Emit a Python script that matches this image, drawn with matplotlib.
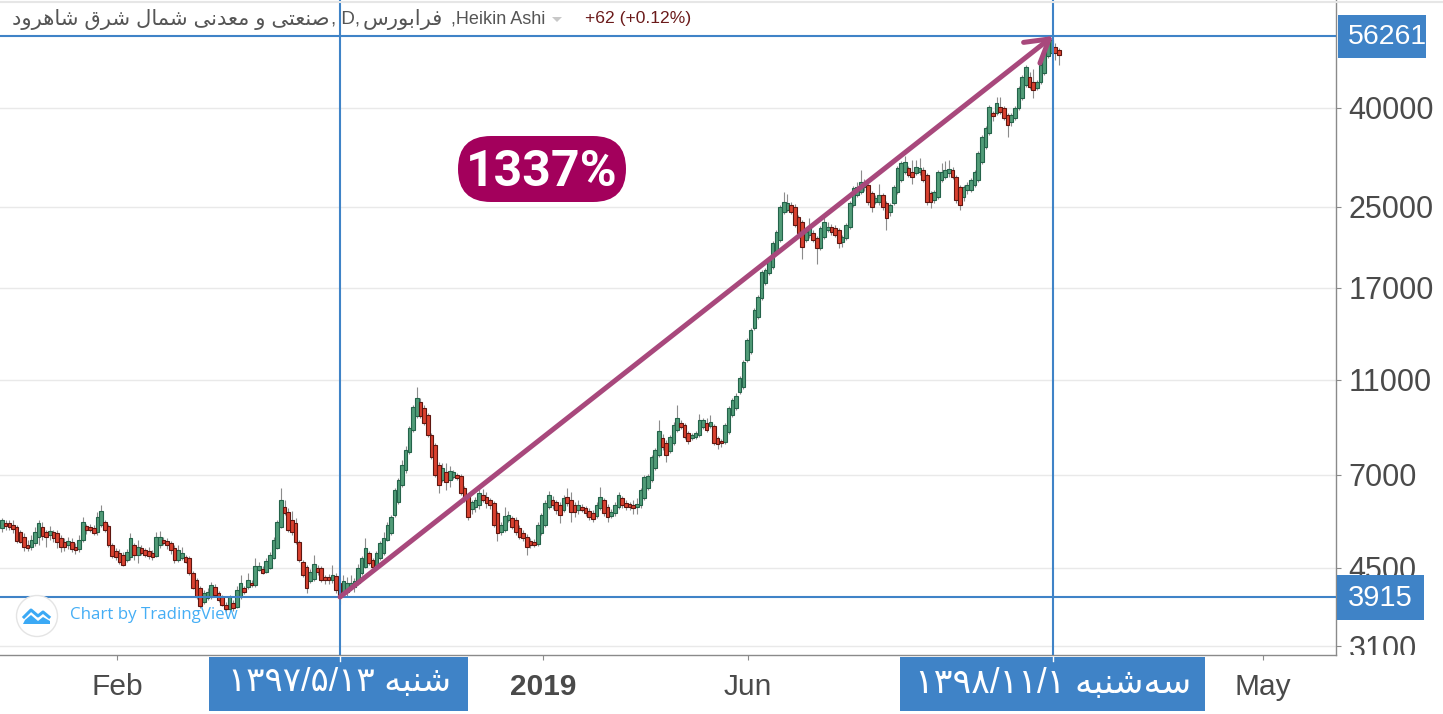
import numpy as np
import matplotlib
matplotlib.use('Agg')
from matplotlib import pyplot as plt
from matplotlib.patches import FancyBboxPatch, Rectangle, Circle, Polygon
from matplotlib.ticker import NullLocator, NullFormatter

# candles, one value per daily bar
body_high = [
    5645,5565,5565,5510,5460,5330,5205,5010,5132,5330,
    5565,5460,5330,5355,5330,5305,5180,5083,5107,5083,
    4965,5132,5590,5485,5460,5435,5730,5890,5590,5485,
    5010,4870,4825,4780,4845,5180,5010,4965,4940,4895,
    4870,4825,5205,5205,5132,5107,5060,4940,4895,4825,
    4735,4710,4390,4244,4085,3990,4010,4145,4105,3990,
    3915,3770,3915,3805,4047,4185,4085,4244,4185,4535,
    4535,4475,4645,4780,5132,5590,6206,6000,5865,5645,
    5565,5083,4625,4515,4410,4585,4495,4495,4305,4305,
    4350,4330,4185,4225,4185,4185,4225,4495,4710,4940,
    4825,4668,4825,5060,5180,5510,5730,6510,6827,7330,
    7871,8740,9660,10080,9885,9610,9300,8455,8060,7330,
    7230,7090,7125,7090,6990,6960,6570,6360,6145,6206,
    6420,6360,6295,6206,6115,5835,5510,5760,5790,5700,
    5645,5435,5305,5205,5107,5083,5510,5790,6115,6360,
    6206,6145,6060,6270,6295,6206,6060,6060,6000,5975,
    5890,5835,6060,6295,6206,6000,5865,6060,6360,6270,
    6115,6085,6060,6085,6510,6925,6960,7620,7871,8615,
    8340,8140,8380,8880,9175,8945,8860,8540,8455,8540,
    9079,9079,8945,8990,8830,8340,8215,8880,9610,9981,
    10180,11090,11960,13275,13922,15311,16280,18330,18510,19411,
    21040,22170,24980,25560,25430,25190,24980,23810,23250,22170,
    22700,22070,21550,22600,23250,22700,22700,22600,22386,21650,
    22920,25430,27330,27460,28120,27980,27720,26690,26060,26430,
    26430,25430,25190,27460,30050,30760,30920,30050,29480,30200,
    30050,29768,29060,26690,26810,29480,29480,29768,29910,29768,
    28790,27460,27460,27730,28385,29480,32230,34820,36340,40180,
    39030,40900,40180,39980,38660,38660,39980,43960,46330,48550,
    46330,45200,45200,49040,52130,54430,55200,53400,52635]
body_low = [
    5435,5485,5460,5410,5107,5083,4965,4940,4965,5060,
    5205,5230,5205,5255,5180,5083,4965,4965,5010,4915,
    4895,4915,5132,5383,5383,5305,5330,5510,5383,5010,
    4760,4735,4625,4560,4668,4735,4780,4780,4825,4780,
    4760,4735,4760,5010,5060,5010,4895,4668,4668,4710,
    4625,4390,4085,3915,3750,3825,3895,3915,3950,3860,
    3770,3700,3700,3715,3735,3915,4010,4105,4145,4145,
    4451,4390,4410,4495,4710,4940,5460,5835,5383,5330,
    5083,4668,4350,4085,4225,4265,4410,4244,4244,4244,
    4244,4047,3915,3990,4010,4105,4105,4185,4390,4515,
    4600,4515,4560,4710,4825,5132,5305,5790,6145,6665,
    7160,7795,8657,9265,9265,8945,8455,7620,6990,6665,
    6827,6760,6827,6925,6895,6420,6206,5730,5945,6000,
    6060,6206,6115,6060,5510,5305,5330,5383,5645,5460,
    5330,5205,5180,4965,5010,5010,5035,5305,5510,6000,
    6060,5920,5790,5920,6115,5865,5865,5920,5920,5835,
    5730,5675,5760,5975,5835,5730,5760,5835,6000,6060,
    6000,6000,5975,6000,6060,6270,6570,6827,7230,7690,
    7970,7690,7835,8140,8657,8790,8380,8215,8340,8380,
    8455,8790,8657,8830,8140,8100,8140,8180,8570,9300,
    9610,10370,10620,12076,12530,14050,14810,16200,17400,18250,
    18780,20160,21346,24390,24621,24390,22920,22070,20640,21346,
    21860,21346,20550,20550,21650,22386,22170,21860,21040,21140,
    21550,22700,25190,26430,26810,27460,25560,24980,25560,25560,
    24980,23710,24390,25430,26810,28385,29480,29060,28790,29340,
    29480,28385,25560,25560,25809,26180,28385,28790,29340,28790,
    25809,25190,26180,27066,27066,27730,28385,30920,33200,35480,
    38480,39030,39220,38130,36870,37370,38130,39980,41900,44570,
    44150,43522,43960,45200,47180,51180,51880,51880,51390]
wick_high = [
    5700,5645,5645,5645,5510,5383,5305,5132,5260,5460,
    5645,5590,5383,5485,5383,5383,5255,5180,5205,5180,
    5060,5255,5730,5535,5535,5510,5870,6065,5650,5535,
    5060,4940,4915,4845,4915,5305,5060,5132,5010,4940,
    4965,4895,5330,5355,5205,5180,5107,5010,5010,4965,
    4780,4760,4430,4285,4125,4047,4085,4205,4165,4030,
    3950,3825,3950,3860,4125,4340,4125,4390,4244,4710,
    4625,4535,4710,4845,5205,5645,6570,6206,5975,5890,
    5700,5132,4668,4560,4470,4780,4560,4535,4350,4370,
    4560,4390,4265,4350,4305,4350,4285,4580,4760,5180,
    4870,4710,4870,5107,5330,5590,5790,6570,6890,7509,
    8030,8830,9750,10620,10080,9750,9400,8540,8140,7420,
    7400,7400,7300,7160,7060,7025,6630,6420,6206,6290,
    6570,6540,6450,6270,6180,5890,5590,6000,5890,5760,
    5730,5510,5383,5280,5180,5155,5590,5835,6206,6480,
    6330,6206,6145,6360,6570,6450,6145,6206,6085,6030,
    5975,5920,6145,6600,6270,6085,5945,6145,6450,6330,
    6206,6145,6206,6270,6570,6990,7025,7700,7960,9079,
    8500,8255,8460,8970,9750,9079,8945,8615,8540,8615,
    9360,9175,9175,9300,8900,8415,8300,8960,9700,10080,
    10300,11200,12070,13420,14050,15450,16430,18510,18690,19600,
    21240,22390,25230,26810,26560,25560,25310,24050,23480,22600,
    23650,22390,21760,22830,24150,23250,23020,22920,22600,21860,
    23150,25680,27600,28090,29770,28520,28120,26940,26430,27860,
    26690,25680,25430,27730,30340,31050,31850,30340,31220,31220,
    31550,30200,29340,26940,27070,29768,30760,31050,31220,30200,
    29060,27730,27730,28120,28660,29770,32550,35150,36690,40570,
    39400,42100,42100,40370,39030,39030,40370,44380,46770,49020,
    47320,48000,45640,49500,52630,54950,56000,54430,53140]
wick_low = [
    5330,5383,5383,5305,5060,5060,4870,4870,4895,4990,
    5010,5132,4965,5132,5083,4940,4845,4870,4915,4845,
    4800,4845,5083,5280,5330,5255,5255,5460,5330,4965,
    4720,4670,4580,4540,4625,4668,4668,4600,4780,4735,
    4690,4668,4735,4940,5010,4915,4800,4600,4625,4668,
    4600,4350,4065,3880,3710,3790,3860,3880,3915,3825,
    3750,3665,3665,3665,3715,3880,3970,4065,4105,4105,
    4430,4370,4390,4475,4690,4915,5435,5790,5330,5255,
    5035,4625,4310,3990,4185,4225,4350,4205,4165,4165,
    4185,3990,3790,3935,3915,4047,4010,4145,4350,4495,
    4560,4451,4535,4668,4780,5107,5255,5730,6085,6600,
    7060,7720,8570,9175,9175,8870,8370,7540,6930,6420,
    6760,6510,6600,6860,6827,6360,6150,5645,5810,5865,
    5945,6145,5975,5945,5460,5110,5255,5330,5590,5410,
    5255,5155,5107,4770,4940,4965,4990,5255,5460,5945,
    5945,5810,5565,5865,6030,5590,5730,5810,5865,5760,
    5645,5590,5700,5920,5760,5590,5700,5760,5945,5975,
    5920,5920,5810,5810,5975,6206,6510,6760,7160,7620,
    7871,7430,7770,8060,8570,8700,8300,8100,8255,8300,
    8380,8700,8570,8740,8060,7900,8000,8100,8500,9220,
    9520,10270,10520,11960,12420,13920,14670,16050,17240,18080,
    18600,19970,21150,24160,24390,24160,22700,21760,19510,21150,
    21540,21150,19030,20360,21450,22170,21860,21650,20540,20640,
    21350,22490,24980,26180,26560,26940,25190,24390,25310,25190,
    24620,22400,23950,25190,26560,28120,29200,28800,27860,29060,
    29060,28120,25190,24860,25430,25930,28120,28520,28800,28520,
    25430,24620,25680,26560,26810,27460,28120,30610,32900,35150,
    37570,38700,38850,37750,34820,36700,37750,39590,41500,44150,
    43730,41900,43520,44780,46770,50690,51390,50200,49000]
# G = up candle, R = down candle
directions = ("GRRRRRRRGG" "GRRGRRRRGR" "RGGRRRGGRR" "RRRRGGRGRR" "RRGGRRRRGG"
              "RRRRRGGGRR" "RRGRGGRGRG" "GRGGGGGRRR" "RRRRGGRRRR" "GRRGGGGGGG"
              "RRGGGGGGGG" "GGGGRRRRRR" "GRGGRRRRGG" "GRRRRRGGGR" "RRRRRRGGGG"
              "RRRGRRRGRR" "RRGGRRGGGR" "RRRGGGGGGG" "RRGGGRRRGG" "GGRGRRRGGG"
              "GGGGGGGGGG" "GGGGGRRRRG" "GRRGGGRRRG" "GGGGGGRRGG" "RRGGGGGRRG"
              "GRRRGGGGGR" "RRGGGGGGGG" "RGRRRGGGGG" "RRGGGGGRR")

y_ticks = [40000, 25000, 17000, 11000, 7000, 4500, 3100]
x_tick_bars = [31.3, 147.4, 203.3, 343.6]
x_tick_labels = ['Feb', '2019', 'Jun', 'May']

start_bar, end_bar = 92.1, 286.4
start_price, end_price = 3915, 56261
y_min, y_max = 2972, 66750
gain_label = '1337%'
change_label = '+62 (+0.12%)'

bar_px = 3.67  # one bar in pixels
BLUE = '#3f83c7'
PURPLE = '#a8487c'
AXIS = '#8a8a8a'
LABEL = '#4a4a4a'

FORMS = {
    'ب': 'ﺏﺐﺑﺒ', 'ت': 'ﺕﺖﺗﺘ', 'س': 'ﺱﺲﺳﺴ', 'ش': 'ﺵﺶﺷﺸ', 'ص': 'ﺹﺺﺻﺼ',
    'ع': 'ﻉﻊﻋﻌ', 'ف': 'ﻑﻒﻓﻔ', 'ق': 'ﻕﻖﻗﻘ', 'ل': 'ﻝﻞﻟﻠ', 'م': 'ﻡﻢﻣﻤ',
    'ن': 'ﻥﻦﻧﻨ', 'ه': 'ﻩﻪﻫﻬ', 'ی': 'ﯼﯽﯾﯿ',
    'ا': 'ﺍﺎ', 'د': 'ﺩﺪ', 'ر': 'ﺭﺮ', 'و': 'ﻭﻮ',
}


def fa(text):
    # matplotlib does no arabic shaping, so pick the joined forms and reverse
    out = []
    for i, ch in enumerate(text):
        if ch not in FORMS:
            if ch != '\u200c':
                out.append(ch)
            continue
        prev_ch = text[i - 1] if i > 0 else ' '
        next_ch = text[i + 1] if i + 1 < len(text) else ' '
        forms = FORMS[ch]
        joins_prev = prev_ch in FORMS and len(FORMS[prev_ch]) == 4
        joins_next = next_ch in FORMS and len(forms) == 4
        out.append(forms[(1 if joins_prev else 0) + (2 if joins_next else 0)])
    return ''.join(reversed(out))


body_high = np.array(body_high)
body_low = np.array(body_low)
bars = np.arange(len(body_high))
is_up = np.array([d == 'G' for d in directions])

fig = plt.figure(figsize=(14.43, 7.14), dpi=100)
plt.rcParams['font.family'] = ['Liberation Sans', 'DejaVu Sans']

ax = fig.add_axes([0, 59 / 714, 1336 / 1443, 655 / 714])
ax.set_yscale('log')
ax.set_xlim(-2 / bar_px, (1336 - 2) / bar_px)
ax.set_ylim(y_min, y_max)

ax.vlines(bars, wick_low, wick_high, color='#8c8c8c', lw=0.8, zorder=2)
ax.bar(bars[is_up], (body_high - body_low)[is_up], bottom=body_low[is_up], width=0.98,
       color='#519c78', edgecolor='#24634a', linewidth=0.8, zorder=3)
ax.bar(bars[~is_up], (body_high - body_low)[~is_up], bottom=body_low[~is_up], width=0.98,
       color='#d9412f', edgecolor='#5e1610', linewidth=0.8, zorder=3)

# crosshairs
ax.axvline(start_bar, color=BLUE, lw=1.5, zorder=4)
ax.axvline(end_bar, color=BLUE, lw=1.5, zorder=4)
ax.axhline(start_price, color=BLUE, lw=1.5, zorder=4)
ax.axhline(end_price, color=BLUE, lw=1.5, zorder=4)

ax.annotate('', xy=(end_bar, end_price), xytext=(start_bar, start_price), zorder=5,
            arrowprops=dict(arrowstyle='->,head_length=16,head_width=9.5', mutation_scale=1,
                            color=PURPLE, lw=3.6, shrinkA=0, shrinkB=0))

ax.yaxis.tick_right()
ax.set_yticks(y_ticks)
ax.set_yticklabels([str(v) for v in y_ticks])
ax.yaxis.set_minor_locator(NullLocator())
ax.yaxis.set_minor_formatter(NullFormatter())
ax.tick_params(axis='y', length=3.6, width=0.8, color=AXIS, labelsize=22, labelcolor=LABEL, pad=5.5)
ax.set_xticks(x_tick_bars)
ax.set_xticklabels(x_tick_labels)
ax.get_xticklabels()[1].set_fontweight('bold')
ax.tick_params(axis='x', length=3.6, width=0.8, color=AXIS, labelsize=21.5, labelcolor=LABEL, pad=9.5)
ax.grid(axis='y', color='#e9e9e9', lw=1.0, zorder=1)
ax.set_axisbelow(True)
for side in ['top', 'left']:
    ax.spines[side].set_visible(False)
for side in ['bottom', 'right']:
    ax.spines[side].set_color(AXIS)
    ax.spines[side].set_linewidth(1.0)

# everything else is laid over the chart in pixel coordinates
ov = fig.add_axes([0, 0, 1, 1])
ov.set_xlim(0, 1443)
ov.set_ylim(714, 0)
ov.axis('off')
ov.patch.set_alpha(0)

ov.add_patch(Rectangle((1338, 655), 105, 59, fc='white', ec='none'))  # cuts the 3100 label
ov.plot([0, 1443], [1.5, 1.5], color='#e6e6e6', lw=1.5)

ov.add_patch(Rectangle((1338, 15), 88, 43, fc=BLUE, ec='none'))
ov.text(1387.5, 36.5, str(end_price), color='white', fontsize=20.5, ha='center', va='center')
ov.add_patch(Rectangle((1337, 575), 87, 45, fc=BLUE, ec='none'))
ov.text(1380.5, 597.5, str(start_price), color='white', fontsize=21, ha='center', va='center')

ov.add_patch(Rectangle((209, 657), 259, 54, fc=BLUE, ec='none'))
ov.text(340, 683, '۱۳۹۷/۵/۱۳ ' + fa('شنبه'), color='white', fontsize=24.5, ha='center', va='center')
ov.add_patch(Rectangle((900, 657), 305, 54, fc=BLUE, ec='none'))
ov.text(1053.5, 683, '۱۳۹۸/۱۱/۱ ' + fa('سه\u200cشنبه'), color='white', fontsize=25, ha='center', va='center')
ov.plot([339.5, 339.5], [657, 661], color='white', lw=1)
ov.plot([1053, 1053], [657, 661], color='white', lw=1)

# header line
ov.text(12, 19, fa('صنعتی و معدنی شمال شرق شاهرود'), color='#555555', fontsize=15.2, ha='left', va='center')
ov.text(331, 19, ', D,', color='#555555', fontsize=13.5, ha='left', va='center')
ov.text(363, 19, fa('فرابورس'), color='#555555', fontsize=15.2, ha='left', va='center')
ov.text(451, 19, ',Heikin Ashi', color='#555555', fontsize=13, ha='left', va='center')
ov.add_patch(Polygon([(552, 17), (562, 17), (557, 22)], fc='#c8c8c8', ec='none'))
ov.text(585, 19, change_label, color='#6b1a1a', fontsize=12.6, ha='left', va='center')

# gain badge
ov.add_patch(FancyBboxPatch((458 + 33, 136 + 33), 168 - 66, 0, boxstyle='round,pad=33,rounding_size=33',
                            fc='#a3005c', ec='none'))
ov.text(542, 173, gain_label, color='white', fontsize=36, fontweight='bold', family='Roboto',
        ha='center', va='center')

# tradingview mark
ov.add_patch(Circle((37, 616), 20.5, fc='white', ec='#e4e4e4', lw=1))
ov.plot([24, 31, 38, 43, 49], [617, 610, 616, 612, 617], color='#3ba9f5', lw=2.2)
ov.add_patch(Polygon([(23, 624), (25, 620), (31, 615), (38, 621), (43, 617), (50, 621), (50, 624)],
                     fc='#3ba9f5', ec='none'))
ov.text(70, 615, 'Chart by TradingView', color='#45aef5', fontsize=12.2, family='Open Sans',
        ha='left', va='center')

plt.savefig('out.png', dpi=100)
